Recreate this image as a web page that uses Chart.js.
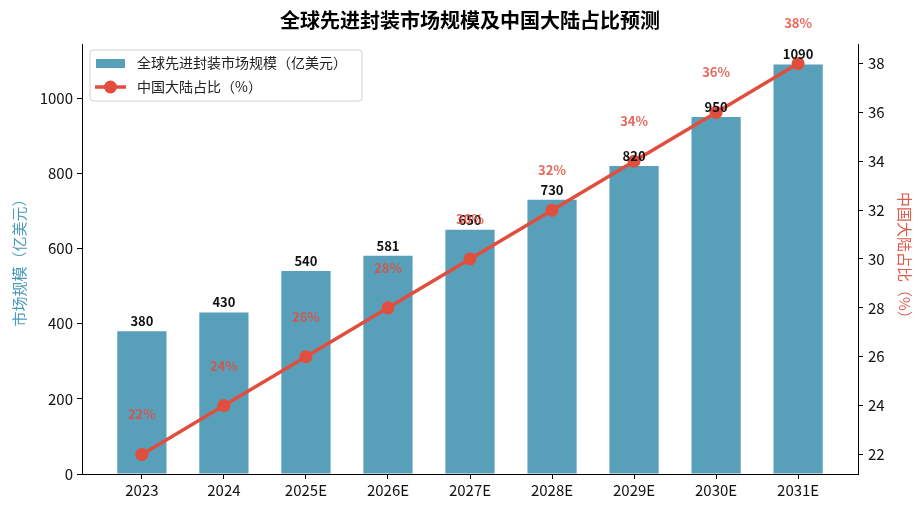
<!DOCTYPE html>
<html lang="zh">
<head>
    <meta charset="UTF-8">
    <title>全球先进封装市场规模及中国大陆占比预测</title>
    <script src="https://cdn.jsdelivr.net/npm/chart.js"></script>
    <style>
        html, body { margin: 0; padding: 0; background: #fff; }
        .chart-box { width: 924px; height: 514px; }
    </style>
</head>
<body>
    <div class="chart-box">
        <canvas id="c"></canvas>
    </div>

    <script>
        // 数据
        const years = ['2023', '2024', '2025E', '2026E', '2027E', '2028E', '2029E', '2030E', '2031E'];
        const marketSize = [380, 430, 540, 581, 650, 730, 820, 950, 1090];
        const cnShare = [22, 24, 26, 28, 30, 32, 34, 36, 38];
        const leftTicks = [0, 200, 400, 600, 800, 1000];
        const rightTicks = [22, 24, 26, 28, 30, 32, 34, 36, 38];

        const BAR = '#589fba';
        const RED = '#e24e3d';
        const FONT = '"Noto Sans CJK SC", "Noto Sans", sans-serif';

        // 标题、图例、数值标签
        const extras = {
            id: 'extras',
            afterDatasetsDraw(chart) {
                const ctx = chart.ctx;
                ctx.save();
                ctx.textAlign = 'center';
                ctx.textBaseline = 'middle';

                ctx.font = 'bold 13px ' + FONT;
                ctx.fillStyle = '#111';
                chart.getDatasetMeta(0).data.forEach((bar, i) => {
                    ctx.fillText(marketSize[i], bar.x, bar.y - 10);
                });

                ctx.fillStyle = 'rgba(226,78,61,0.85)';
                chart.getDatasetMeta(1).data.forEach((pt, i) => {
                    ctx.fillText(cnShare[i] + '%', pt.x, pt.y - 40);
                });

                // 标题
                ctx.fillStyle = '#000';
                ctx.font = 'bold 20px ' + FONT;
                ctx.fillText('全球先进封装市场规模及中国大陆占比预测', (chart.chartArea.left + chart.chartArea.right) / 2, 20);

                // 图例
                const lx = 90, ly = 50, lw = 272, lh = 51;
                ctx.beginPath();
                ctx.roundRect(lx, ly, lw, lh, 3);
                ctx.fillStyle = 'rgba(255,255,255,0.85)';
                ctx.fill();
                ctx.strokeStyle = '#d0d0d0';
                ctx.lineWidth = 1;
                ctx.stroke();

                ctx.fillStyle = BAR;
                ctx.fillRect(96, 59, 29, 9);
                ctx.strokeStyle = RED;
                ctx.lineWidth = 3.5;
                ctx.beginPath();
                ctx.moveTo(95, 87);
                ctx.lineTo(126, 87);
                ctx.stroke();
                ctx.beginPath();
                ctx.arc(110.5, 87, 6.5, 0, Math.PI * 2);
                ctx.fillStyle = RED;
                ctx.fill();

                ctx.fillStyle = '#222';
                ctx.font = '14px ' + FONT;
                ctx.textAlign = 'left';
                ctx.fillText('全球先进封装市场规模（亿美元）', 137, 63);
                ctx.fillText('中国大陆占比（%）', 137, 87);
                ctx.restore();
            }
        };

        const ctx = document.getElementById('c').getContext('2d');
        new Chart(ctx, {
            data: {
                datasets: [
                    {
                        type: 'bar',
                        label: '全球先进封装市场规模（亿美元）',
                        data: marketSize.map((v, i) => ({ x: i, y: v })),
                        backgroundColor: BAR,
                        yAxisID: 'y',
                        barPercentage: 0.6,
                        categoryPercentage: 1,
                        order: 2
                    },
                    {
                        type: 'line',
                        label: '中国大陆占比（%）',
                        data: cnShare.map((v, i) => ({ x: i, y: v })),
                        borderColor: RED,
                        backgroundColor: RED,
                        borderWidth: 3.5,
                        pointRadius: 6.5,
                        pointBackgroundColor: RED,
                        pointBorderWidth: 0,
                        yAxisID: 'y1',
                        order: 1
                    }
                ]
            },
            options: {
                responsive: true,
                maintainAspectRatio: false,
                animation: false,
                layout: { padding: { top: 44, left: 0, right: 0, bottom: 0 } },
                plugins: {
                    legend: { display: false },
                    tooltip: { enabled: false }
                },
                scales: {
                    x: {
                        type: 'linear',
                        offset: false,
                        min: -0.73,
                        max: 8.73,
                        afterBuildTicks: axis => { axis.ticks = years.map((_, i) => ({ value: i })); },
                        afterFit: s => { s.height = 40; },
                        ticks: {
                            callback: v => years[v],
                            color: '#111',
                            font: { size: 15, family: FONT },
                            padding: 2,
                            maxRotation: 0
                        },
                        grid: { offset: false, drawOnChartArea: false, color: '#000', tickLength: 5 },
                        border: { color: '#000', width: 1 }
                    },
                    y: {
                        position: 'left',
                        min: 0,
                        max: 1144.5,
                        afterBuildTicks: axis => { axis.ticks = leftTicks.map(v => ({ value: v })); },
                        afterFit: s => { s.width = 82; },
                        ticks: {
                            callback: v => String(v),
                            color: '#111',
                            font: { size: 15, family: FONT },
                            padding: 4
                        },
                        grid: { drawOnChartArea: false, color: '#000', tickLength: 5 },
                        border: { color: '#000', width: 1 },
                        title: {
                            display: true,
                            text: '市场规模（亿美元）',
                            color: '#4a9aba',
                            font: { size: 15, family: FONT },
                            padding: { top: 10, bottom: 0 }
                        }
                    },
                    y1: {
                        position: 'right',
                        min: 21.2,
                        max: 38.8,
                        afterBuildTicks: axis => { axis.ticks = rightTicks.map(v => ({ value: v })); },
                        afterFit: s => { s.width = 66; },
                        ticks: {
                            color: '#111',
                            font: { size: 15, family: FONT },
                            padding: 5
                        },
                        grid: { drawOnChartArea: false, color: '#000', tickLength: 5 },
                        border: { color: '#000', width: 1 },
                        title: {
                            display: true,
                            text: '中国大陆占比（%）',
                            color: '#e05a4a',
                            font: { size: 15, family: FONT },
                            padding: { top: 10, bottom: 0 }
                        }
                    }
                }
            },
            plugins: [extras]
        });
    </script>
</body>
</html>
